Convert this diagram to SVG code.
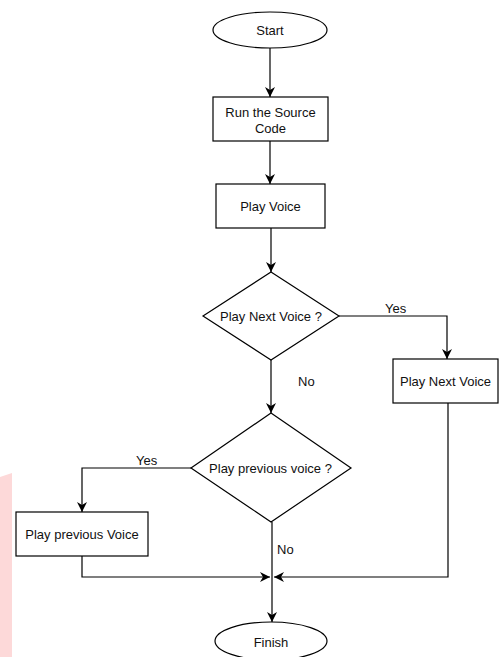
<svg xmlns="http://www.w3.org/2000/svg" width="502" height="657" viewBox="0 0 502 657">
<style>
.n{fill:#fff;stroke:#000;stroke-width:1.2}
.c{fill:none;stroke:#000;stroke-width:1.2}
text{font-family:"Liberation Sans",Arial,sans-serif;font-size:13px;fill:#111}
.m{text-anchor:middle;dominant-baseline:central}
</style>
<defs>
<marker id="a" viewBox="0 0 10 10" refX="10" refY="5" markerWidth="10" markerHeight="10" markerUnits="userSpaceOnUse" orient="auto">
<path d="M0,0 L10,5 L0,10 L3,5 Z" fill="#000"/>
</marker>
</defs>
<rect width="502" height="657" fill="#fff"/>
<path d="M0,477 L12,473 L12,657 L0,657 Z" fill="#fdd9d9"/>
<g id="connectors">
<path class="c" d="M270,48 V97" marker-end="url(#a)"/>
<path class="c" d="M270,141 V184" marker-end="url(#a)"/>
<path class="c" d="M271,228 V272" marker-end="url(#a)"/>
<path class="c" d="M339,316 H447 V359" marker-end="url(#a)"/>
<path class="c" d="M271,360 V413" marker-end="url(#a)"/>
<path class="c" d="M191,468 H82 V512" marker-end="url(#a)"/>
<path class="c" d="M82,556 V577 H270" marker-end="url(#a)"/>
<path class="c" d="M448,403 V577 H274" marker-end="url(#a)"/>
<path class="c" d="M272,522 V622" marker-end="url(#a)"/>
<text x="385" y="313">Yes</text>
<text x="298" y="386">No</text>
<text x="136" y="465">Yes</text>
<text x="277" y="554">No</text>
</g>
<g id="start"><ellipse class="n" cx="270" cy="30" rx="57" ry="18"/><text class="m" x="270" y="30">Start</text></g>
<g id="run"><rect class="n" x="213" y="97" width="115" height="44"/><text class="m" x="270.5" y="112">Run the Source</text><text class="m" x="270.5" y="128">Code</text></g>
<g id="playvoice"><rect class="n" x="216" y="184" width="109" height="44"/><text class="m" x="270.5" y="206">Play Voice</text></g>
<g id="decnext"><path class="n" d="M271,272 L339,316 L271,360 L203,316 Z"/><text class="m" x="271" y="316">Play Next Voice ?</text></g>
<g id="playnext"><rect class="n" x="393" y="359" width="105" height="44"/><text class="m" x="445.5" y="381">Play Next Voice</text></g>
<g id="decprev"><path class="n" d="M271,413 L351,468 L271,522 L191,468 Z"/><text class="m" x="270.5" y="468">Play previous voice ?</text></g>
<g id="playprev"><rect class="n" x="16" y="512" width="132" height="44"/><text class="m" x="82" y="534">Play previous Voice</text></g>
<g id="finish"><ellipse class="n" cx="271" cy="641" rx="56" ry="19"/><text class="m" x="271" y="642">Finish</text></g>
</svg>
